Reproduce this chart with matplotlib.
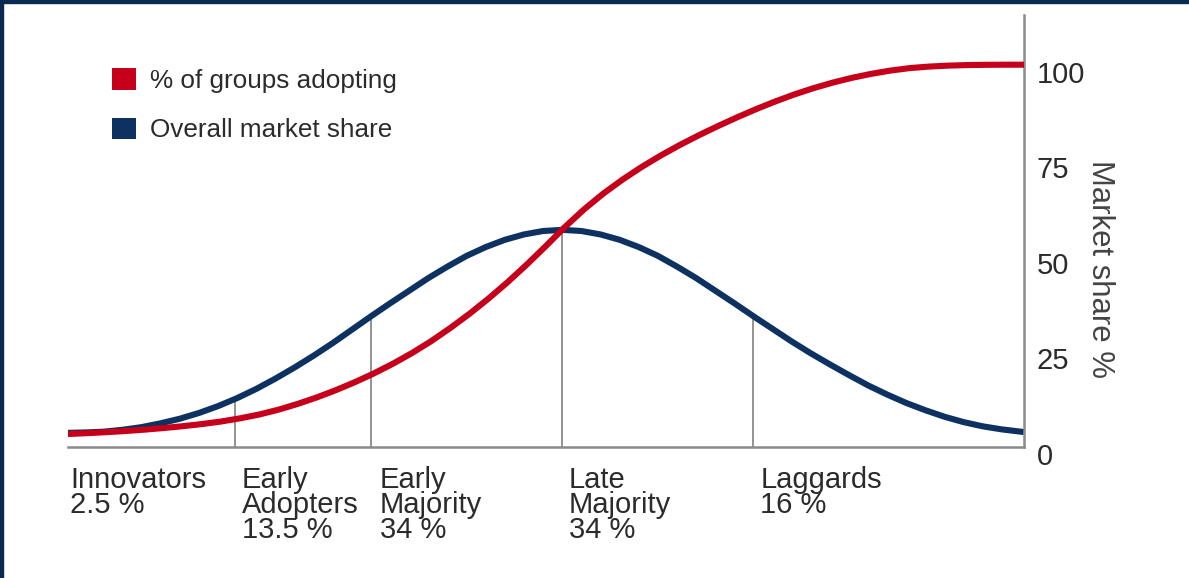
import numpy as np
import matplotlib
matplotlib.use("Agg")
import matplotlib.pyplot as plt
from matplotlib.patches import Patch, Rectangle
from matplotlib.transforms import ScaledTranslation

plt.rcParams['font.family'] = ['Liberation Sans', 'DejaVu Sans']

# position along the adoption timeline (0 = first buyers, 100 = last)
# overall market share (bell curve)
share_x = [0, 1.7, 3.7, 5.7, 7.7, 9.7, 11.7, 13.7, 15.7, 17.7, 19.7, 21.7, 23.7, 25.7,
           27.7, 29.7, 31.7, 33.7, 35.7, 37.7, 39.7, 41.7, 43.7, 45.7, 47.7, 49.7,
           51.7, 53.7, 55.7, 57.7, 59.7, 61.7, 63.7, 65.7, 67.7, 69.7, 71.7, 73.7,
           75.7, 77.7, 79.7, 81.7, 83.7, 85.7, 87.7, 89.7, 91.7, 93.7, 95.7, 97.7,
           99.7, 100]
market_share = [3.7, 3.8, 4.0, 4.5, 5.2, 6.2, 7.4, 8.9, 10.7, 12.8, 15.2, 17.9, 20.8, 23.9,
                27.2, 30.7, 34.2, 37.6, 40.9, 44.2, 47.2, 50.0, 52.3, 54.2, 55.6, 56.5,
                56.8, 56.5, 55.6, 54.2, 52.3, 50.0, 47.2, 44.2, 40.9, 37.6, 34.2, 30.9,
                27.6, 24.5, 21.6, 18.8, 16.1, 13.7, 11.5, 9.6, 7.9, 6.5, 5.4, 4.6,
                4.0, 3.9]

# % of groups adopting (cumulative)
adopt_x = [0, 2, 4, 6, 8, 10, 12, 14, 16, 18, 20, 22, 24, 26, 28, 30, 32, 34, 36, 38,
           40, 42, 44, 46, 48, 50, 52, 54, 56, 58, 60, 62, 64, 66, 68, 70, 72, 74, 76,
           78, 80, 82, 84, 86, 88, 90, 92, 94, 96, 98, 100]
pct_adopting = [3.40, 3.62, 3.88, 4.18, 4.54, 4.96, 5.44, 6.00, 6.66, 7.50, 8.50, 9.75,
                11.25, 12.95, 14.85, 16.95, 19.25, 21.80, 24.60, 27.70, 31.15, 34.85,
                38.85, 43.15, 47.75, 52.60, 57.60, 62.20, 66.30, 69.94, 73.24, 76.24,
                79.00, 81.56, 83.96, 86.24, 88.40, 90.40, 92.24, 93.88, 95.32, 96.56,
                97.60, 98.45, 99.10, 99.50, 99.75, 99.90, 99.97, 100.0, 100.0]

boundaries = [17.5, 31.7, 51.7, 71.7]
boundary_tops = [12.6, 34.2, 56.8, 34.2]

groups = ["Innovators\n2.5 %", "Early\nAdopters\n13.5 %", "Early\nMajority\n34 %",
          "Late\nMajority\n34 %", "Laggards\n16 %"]
group_x = [0.2, 18.2, 32.6, 52.4, 72.4]

yticks = [0, 25, 50, 75, 100]

red = '#c6001a'
navy = '#0d3262'
grey = '#8a8a8a'
txt = '#2b2b2b'

fig = plt.figure(figsize=(11.89, 5.78), dpi=100)
fig.patch.set_facecolor('white')
ax = fig.add_axes([68/1189, 1-447/578, (1024-68)/1189, (447-15)/578])

ax.vlines(boundaries, 0, boundary_tops, color=grey, lw=1.3, zorder=1)
ax.plot(share_x, market_share, color=navy, lw=4.4, solid_capstyle='butt', zorder=2)
ax.plot(adopt_x, pct_adopting, color=red, lw=4.4, solid_capstyle='butt', zorder=3)

ax.set_xlim(0, 100)
ax.set_ylim(0, 113)
ax.set_xticks([])

# right axis only
for s in ['top', 'left']:
    ax.spines[s].set_visible(False)
for s in ['right', 'bottom']:
    ax.spines[s].set_color(grey)
    ax.spines[s].set_linewidth(1.8)
ax.yaxis.tick_right()
ax.set_yticks(yticks)
ax.tick_params(axis='y', length=0, pad=9, labelsize=21, labelcolor=txt)
off = ScaledTranslation(0, -5/72, fig.dpi_scale_trans)
for lab in ax.get_yticklabels():
    lab.set_transform(lab.get_transform() + off)

fig.text(1100/1189, 1-269/578, "Market share %", rotation=270, ha='center', va='center',
         fontsize=22.4, color='#444444')

for gx, g in zip(group_x, groups):
    ax.text(gx, -5.0, g, ha='left', va='top', fontsize=21, color=txt,
            linespacing=0.86, clip_on=False)

handles = [Patch(facecolor=red, edgecolor='none', label="% of groups adopting"),
           Patch(facecolor=navy, edgecolor='none', label="Overall market share")]
ax.legend(handles=handles, loc='upper left', bbox_to_anchor=(112/1189, 1-68/578),
          bbox_transform=fig.transFigure, frameon=False, borderpad=0, borderaxespad=0,
          fontsize=18.8, handlelength=0.9, handleheight=0.9, handletextpad=0.55,
          labelspacing=0.95, labelcolor=txt)

# dark frame on the top and left edges
fig.patches.append(Rectangle((0, 1-3/578), 1, 3/578, transform=fig.transFigure,
                             color='#0b2a4f', zorder=10))
fig.patches.append(Rectangle((0, 0), 3/1189, 1, transform=fig.transFigure,
                             color='#0b2a4f', zorder=10))

fig.savefig("out.png", dpi=100, facecolor='white')
